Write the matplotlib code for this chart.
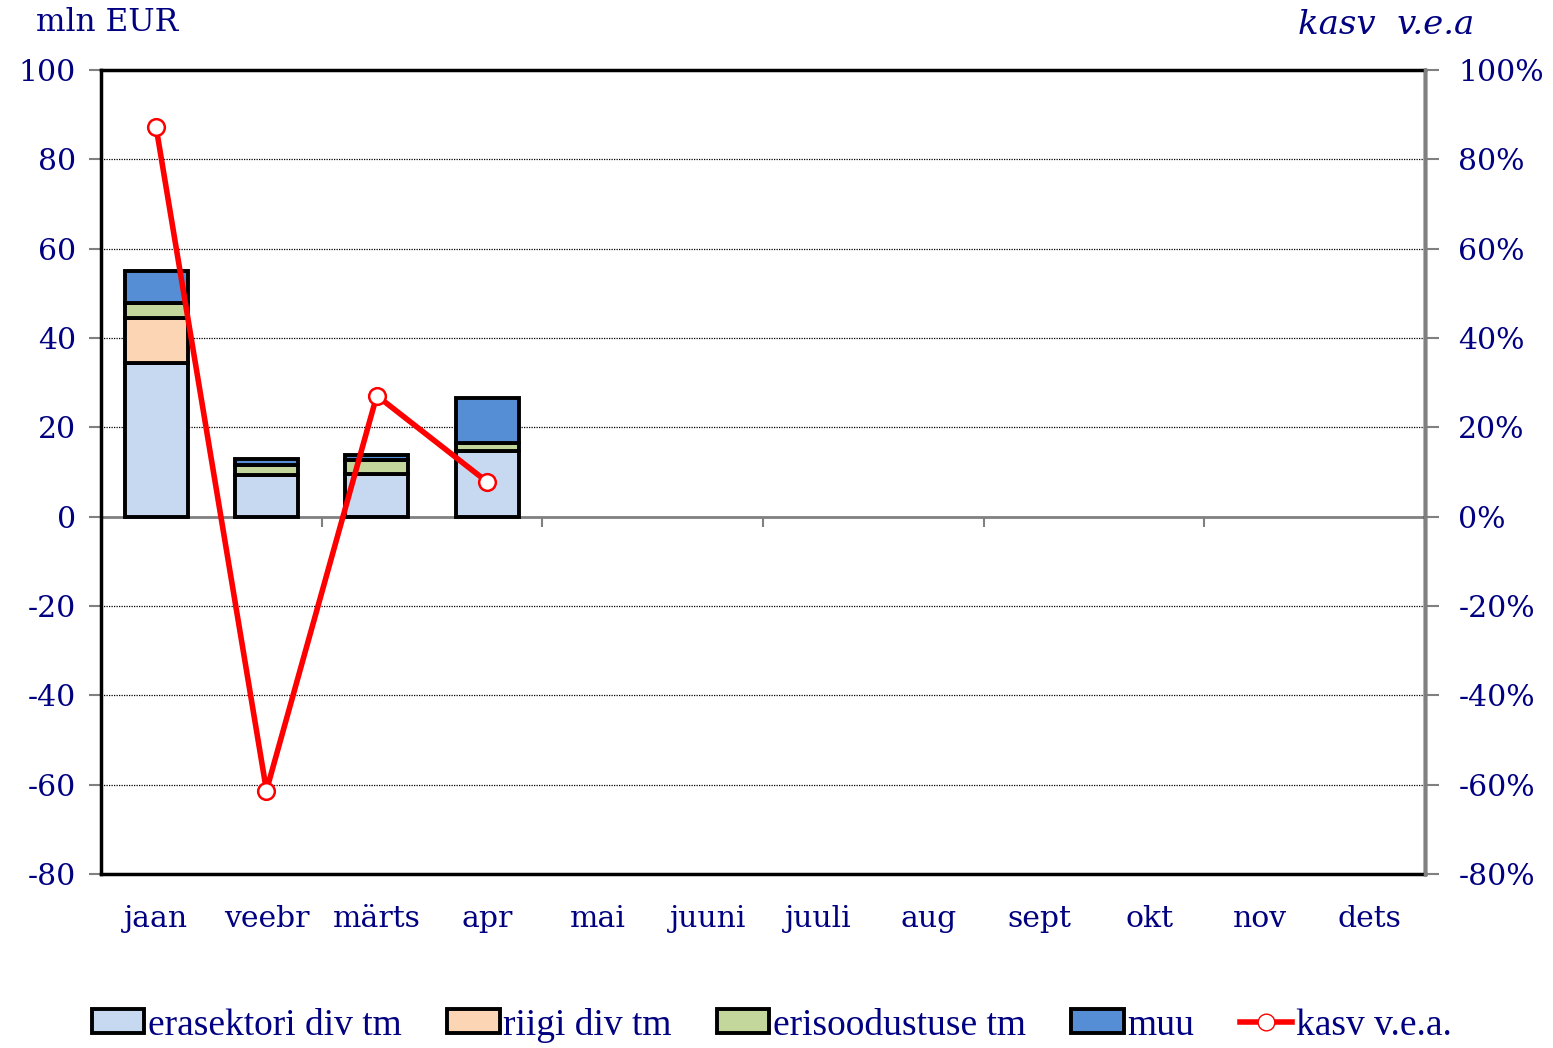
import numpy as np
import matplotlib.pyplot as plt
from matplotlib.patches import Patch
from matplotlib.lines import Line2D
from matplotlib.ticker import FuncFormatter

plt.rcParams['axes.unicode_minus'] = False

# data
months = ['jaan', 'veebr', 'märts', 'apr', 'mai', 'juuni', 'juuli', 'aug', 'sept', 'okt', 'nov', 'dets']
erasektori = [34.4, 9.4, 9.5, 14.8]
riigi = [10.1, 0.0, 0.0, 0.0]
erisood = [3.3, 2.1, 3.1, 1.8]
muu = [7.3, 1.4, 1.3, 10.0]
kasv = [0.872, -0.613, 0.271, 0.078]

series_names = ['erasektori div tm', 'riigi div tm', 'erisoodustuse tm', 'muu']
colors = ['#c6d9f1', '#fcd5b5', '#c3d69b', '#558ed5']
navy = '#000080'
serif = 'DejaVu Serif'

fig = plt.figure(figsize=(15.53, 10.48), dpi=100)
ax = fig.add_axes([0.065, 0.166, 0.8526, 0.7672])

x = np.arange(len(erasektori))
bottom = np.zeros(len(x))
for vals, col in zip([erasektori, riigi, erisood, muu], colors):
    vals = np.array(vals)
    ax.bar(x, vals, width=0.57, bottom=bottom, color=col, edgecolor='black', linewidth=2.8, zorder=3)
    bottom += vals

ax.set_xlim(-0.5, 11.5)
ax.set_ylim(-80, 100)
ax.set_yticks(np.arange(-80, 101, 20))
ax.set_xticks(np.arange(12))
ax.set_xticklabels(months)
for yv in np.arange(-60, 81, 20):
    if yv != 0:
        ax.axhline(yv, color='black', linestyle=(0, (1, 1)), linewidth=0.9, zorder=1)
ax.axhline(0, color='#808080', linewidth=2, zorder=2)
# small tick marks on the zero line, every second month boundary
ax.vlines(np.arange(1.5, 12, 2), -2.2, 0, color='#808080', linewidth=1.5, zorder=2)

ax.tick_params(axis='x', length=0, pad=22, labelsize=21.5, labelcolor=navy)
ax.tick_params(axis='y', length=9, width=1.5, color='#808080', pad=9, labelsize=21.5, labelcolor=navy)
for lab in ax.get_xticklabels() + ax.get_yticklabels():
    lab.set_fontfamily(serif)
for s in ax.spines.values():
    s.set_linewidth(2.5)
    s.set_color('black')

ax2 = ax.twinx()
ax2.set_ylim(-0.8, 1.0)
ax2.set_yticks(np.arange(-0.8, 1.01, 0.2))
ax2.yaxis.set_major_formatter(FuncFormatter(lambda v, p: '%d%%' % round(v * 100)))
ax2.plot(x, kasv, color='red', linewidth=4, marker='o', markersize=12,
         markerfacecolor='white', markeredgecolor='red', markeredgewidth=1.8, zorder=5)
ax2.tick_params(axis='y', length=10, width=1.5, color='#808080', pad=14, labelsize=21.5, labelcolor=navy)
for lab in ax2.get_yticklabels():
    lab.set_fontfamily(serif)
for s in ax2.spines.values():
    s.set_visible(False)
ax2.spines['right'].set_visible(True)
ax2.spines['right'].set_color('#808080')
ax2.spines['right'].set_linewidth(2.5)

fig.text(0.023, 0.979, 'mln EUR', fontsize=22.5, color=navy, family=serif, va='center')
fig.text(0.949, 0.976, 'kasv  v.e.a', fontsize=24.5, color=navy, family=serif, style='italic',
         va='center', ha='right')

handles = [Patch(facecolor=c, edgecolor='black', linewidth=2.8) for c in colors]
handles.append(Line2D([], [], color='red', linewidth=4, marker='o', markersize=12,
                      markerfacecolor='white', markeredgecolor='red'))
leg = fig.legend(handles, series_names + ['kasv v.e.a.'], loc='lower center', ncol=5,
                 bbox_to_anchor=(0.497, -0.027), frameon=False, handlelength=1.4,
                 handleheight=0.6, handletextpad=0.1, columnspacing=1.2,
                 prop={'family': 'Liberation Serif', 'size': 27})
for t in leg.get_texts():
    t.set_color(navy)

plt.savefig('out.png', dpi=100)
